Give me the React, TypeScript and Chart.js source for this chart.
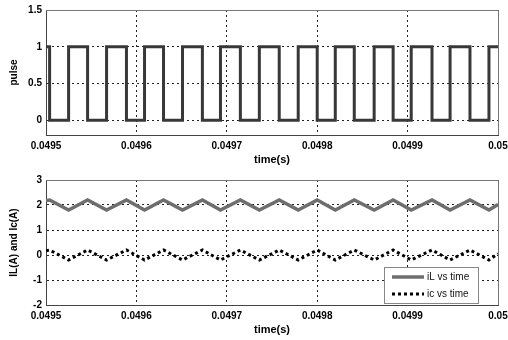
import React, { useEffect, useRef } from "react";
import { Chart, registerables } from "chart.js";

Chart.register(...registerables);

// time instants (s): start, alternating switching edges, end
const time = [
  0.0495, 0.049504, 0.049525, 0.049546, 0.049567, 0.049589, 0.049609, 0.04963,
  0.049651, 0.049673, 0.049693, 0.049715, 0.049736, 0.049758, 0.049779, 0.0498,
  0.04982, 0.049841, 0.049863, 0.049884, 0.049904, 0.049927, 0.049947, 0.049969,
  0.04999, 0.05,
];
// gate pulse level held from each instant to the next
const pulse = [1, 0, 1, 0, 1, 0, 1, 0, 1, 0, 1, 0, 1, 0, 1, 0, 1, 0, 1, 0, 1, 0, 1, 0, 1, 1];
// inductor current (A)
const iL = [
  2.18, 2.2, 1.8, 2.2, 1.8, 2.2, 1.8, 2.2, 1.8, 2.2, 1.8, 2.2, 1.8, 2.2, 1.8, 2.2,
  1.8, 2.2, 1.8, 2.2, 1.8, 2.2, 1.8, 2.2, 1.8, 2.02,
];
// capacitor current (A)
const ic = [
  0.17, 0.2, -0.2, 0.2, -0.2, 0.2, -0.2, 0.2, -0.2, 0.2, -0.2, 0.2, -0.2, 0.2, -0.2, 0.2,
  -0.2, 0.2, -0.2, 0.2, -0.2, 0.2, -0.2, 0.2, -0.2, 0.05,
];

const xTicks = [0.0495, 0.0496, 0.0497, 0.0498, 0.0499, 0.05];
const pulseTicks = [0, 0.5, 1, 1.5];
const currentTicks = [-2, -1, 0, 1, 2, 3];

const FAMILY = "'Liberation Sans', Arial, Helvetica, sans-serif";

const framePlugin = {
  id: "frame",
  beforeDatasetsDraw(chart: any) {
    const { ctx, chartArea } = chart;
    ctx.save();
    ctx.strokeStyle = "#777";
    ctx.lineWidth = 1;
    ctx.beginPath();
    ctx.moveTo(Math.round(chartArea.left), Math.round(chartArea.top) + 0.5);
    ctx.lineTo(Math.round(chartArea.right) + 0.5, Math.round(chartArea.top) + 0.5);
    ctx.lineTo(Math.round(chartArea.right) + 0.5, Math.round(chartArea.bottom));
    ctx.stroke();
    ctx.restore();
  },
};

const boxLegendPlugin = {
  id: "boxLegend",
  afterDatasetsDraw(chart: any, _args: any, opts: any) {
    if (!opts || !opts.show) return;
    const { ctx, chartArea } = chart;
    const w = 94;
    const h = 36;
    const x = Math.round(chartArea.right - 20 - w);
    const y = Math.round(chartArea.bottom - 2 - h);
    ctx.save();
    ctx.fillStyle = "#fff";
    ctx.fillRect(x, y, w, h);
    ctx.strokeStyle = "#888";
    ctx.lineWidth = 1;
    ctx.strokeRect(x + 0.5, y + 0.5, w, h);
    chart.data.datasets.forEach((ds: any, i: number) => {
      const cy = y + 10 + i * 17;
      ctx.strokeStyle = ds.borderColor;
      ctx.lineWidth = ds.borderWidth;
      ctx.setLineDash(ds.borderDash || []);
      ctx.beginPath();
      ctx.moveTo(x + 8, cy);
      ctx.lineTo(x + 40, cy);
      ctx.stroke();
      ctx.setLineDash([]);
      ctx.fillStyle = "#111";
      ctx.font = `10px ${FAMILY}`;
      ctx.textBaseline = "middle";
      ctx.textAlign = "left";
      ctx.fillText(ds.label, x + 43, cy);
    });
    ctx.restore();
  },
};

function makeOptions(yMin: number, yMax: number, yTicks: number[], yTitle: string, showLegend: boolean) {
  const tickFont = { family: FAMILY, size: 10, weight: "bold" as const };
  return {
    responsive: false,
    animation: false as const,
    layout: { padding: { left: 0, right: 10, top: 10, bottom: 0 } },
    plugins: {
      legend: { display: false },
      tooltip: { enabled: false },
      boxLegend: { show: showLegend },
    },
    scales: {
      x: {
        type: "linear" as const,
        min: 0.0495,
        max: 0.05,
        afterBuildTicks: (s: any) => {
          s.ticks = xTicks.map((v) => ({ value: v }));
        },
        afterFit: (s: any) => {
          s.height = 35;
          s.paddingLeft = 0;
          s.paddingRight = 0;
        },
        ticks: {
          autoSkip: false,
          maxRotation: 0,
          padding: 5,
          color: "#000",
          font: tickFont,
          callback: (v: any) => String(Number(Number(v).toFixed(4))),
        },
        grid: { color: "#222", lineWidth: 1, drawTicks: false },
        border: { display: true, color: "#444", width: 1, dash: [2, 3] },
        title: {
          display: true,
          text: "time(s)",
          color: "#000",
          font: { family: FAMILY, size: 11, weight: "bold" as const },
          padding: { top: 0, bottom: 3 },
        },
      },
      y: {
        min: yMin,
        max: yMax,
        afterBuildTicks: (s: any) => {
          s.ticks = yTicks.map((v) => ({ value: v }));
        },
        afterFit: (s: any) => {
          s.width = 46;
          s.paddingTop = 0;
          s.paddingBottom = 0;
        },
        ticks: {
          padding: 4,
          color: "#000",
          font: tickFont,
          callback: (v: any) => String(Number(Number(v).toFixed(2))),
        },
        grid: { color: "#222", lineWidth: 1, drawTicks: false },
        border: { display: true, color: "#444", width: 1, dash: [2, 3] },
        title: {
          display: true,
          text: yTitle,
          color: "#000",
          font: { family: FAMILY, size: 10, weight: "bold" as const },
          padding: { top: 8, bottom: 0 },
        },
      },
    },
  };
}

function PlotCanvas({ build }: { build: (c: HTMLCanvasElement) => Chart }) {
  const ref = useRef<HTMLCanvasElement | null>(null);
  useEffect(() => {
    if (!ref.current) return;
    const chart = build(ref.current);
    return () => chart.destroy();
  }, []);
  return <canvas ref={ref} width={508} height={170} style={{ display: "block" }} />;
}

export default function App() {
  const buildPulse = (c: HTMLCanvasElement) =>
    new Chart(c, {
      type: "line",
      data: {
        datasets: [
          {
            label: "pulse",
            data: time.map((t, i) => ({ x: t, y: pulse[i] })),
            borderColor: "#383838",
            borderWidth: 3,
            pointRadius: 0,
            stepped: "before",
            fill: false,
          },
        ],
      },
      options: makeOptions(-0.2, 1.5, pulseTicks, "pulse", false) as any,
      plugins: [framePlugin, boxLegendPlugin],
    });

  const buildCurrents = (c: HTMLCanvasElement) =>
    new Chart(c, {
      type: "line",
      data: {
        datasets: [
          {
            label: "iL vs time",
            data: time.map((t, i) => ({ x: t, y: iL[i] })),
            borderColor: "#6e6e6e",
            borderWidth: 3.5,
            pointRadius: 0,
            tension: 0,
            fill: false,
          },
          {
            label: "ic vs time",
            data: time.map((t, i) => ({ x: t, y: ic[i] })),
            borderColor: "#000",
            borderWidth: 3,
            borderDash: [3, 3],
            pointRadius: 0,
            tension: 0,
            fill: false,
          },
        ],
      },
      options: makeOptions(-2, 3, currentTicks, "IL(A) and Ic(A)", true) as any,
      plugins: [framePlugin, boxLegendPlugin],
    });

  return (
    <div style={{ position: "absolute", left: 0, top: 0, width: 508, height: 340, background: "#fff" }}>
      <div style={{ position: "absolute", left: 0, top: 0 }}>
        <PlotCanvas build={buildPulse} />
      </div>
      <div style={{ position: "absolute", left: 0, top: 170 }}>
        <PlotCanvas build={buildCurrents} />
      </div>
    </div>
  );
}
